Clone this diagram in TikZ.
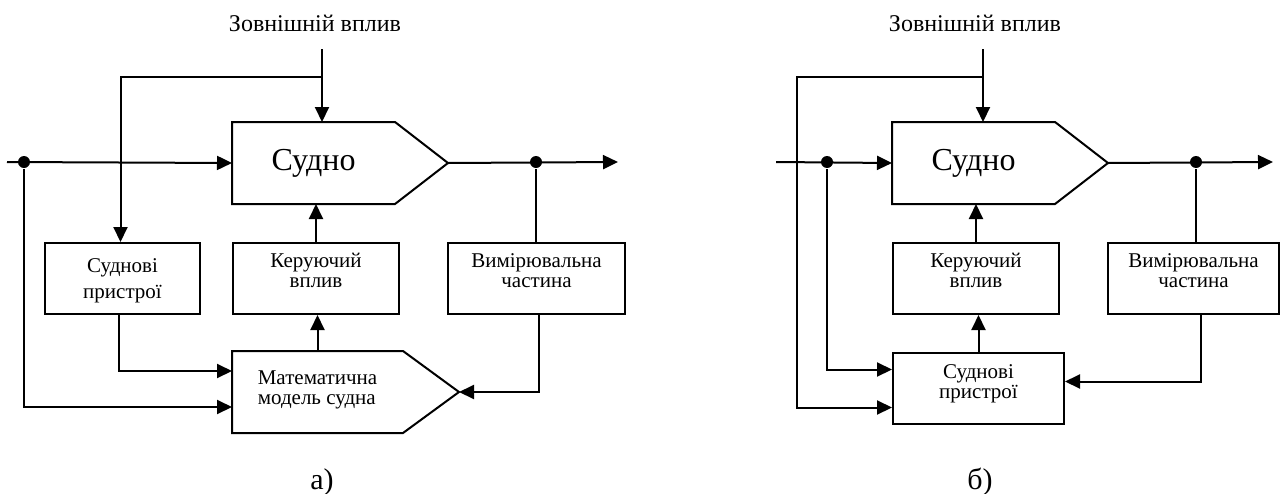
\documentclass[tikz,border=0pt]{standalone}
\usepackage{fontspec}
\setmainfont{Liberation Serif}
\usetikzlibrary{arrows.meta,calc}

\begin{document}
\begin{tikzpicture}[x=1pt, y=-1pt, line width=2pt,
    box/.style={draw, line width=2pt, anchor=north west, inner sep=0pt,
        align=center, font=\fontsize{21}{20}\selectfont},
    pent/.style={anchor=north west, inner sep=0pt, minimum height=80pt},
    arr/.style={-{Triangle[length=15pt,width=14pt]}},
    dot/.style={circle, fill, inner sep=0pt, minimum size=12pt},
    caption/.style={anchor=base, font=\fontsize{30}{32}\selectfont}]

\useasboundingbox (0,0) rectangle (1280,493);

% ── Схема а) ────────────────────────────────────────────────
\node[anchor=base, font=\fontsize{24}{28}\selectfont] (extA) at (315,31) {Зовнішній вплив};

\node[pent, minimum width=161pt, font=\fontsize{32}{36}\selectfont] (shipA) at (232,122) {Судно};
\coordinate (shipAtip) at ($(shipA.east)+(53,0)$);
\draw[line join=miter] (shipA.north west) -- (shipA.north east) -- (shipAtip)
    -- (shipA.south east) -- (shipA.south west) -- cycle;

\node[box, minimum width=155pt, minimum height=71pt, text height=40pt, text depth=0pt]
    (devA) at (44,242) {Суднові\\[6pt]пристрої};
\node[box, minimum width=166pt, minimum height=71pt, text height=34pt, text depth=16pt]
    (ctrlA) at (232,242) {Керуючий\\вплив};
\node[box, minimum width=177pt, minimum height=71pt, text height=34pt, text depth=16pt]
    (measA) at (447,242) {Вимірювальна\\частина};

\node[pent, minimum width=169pt, align=left, text height=34pt, text depth=9pt,
    font=\fontsize{21}{20}\selectfont] (modelA) at (232,351) {Математична\\модель судна};
\coordinate (modelAtip) at ($(modelA.east)+(56,0)$);
\draw[line join=miter] (modelA.north west) -- (modelA.north east) -- (modelAtip)
    -- (modelA.south east) -- (modelA.south west) -- cycle;

% вхід, вихід і точки розгалуження
\coordinate (inA) at (7,162);
\coordinate (outA) at (618,162);
\coordinate (topA) at (322,49);
\coordinate (forkA) at (322,77);
\node[dot] (jA1) at (24,162) {};
\node[dot] (jA2) at (536,162) {};

\draw[arr] (topA) -- (topA |- shipA.north);
\draw[arr] (forkA) -| ([xshift=-2pt]devA.north);
\draw[arr] (inA) -- (shipA.west);
\draw[arr] (shipAtip) -- (outA);
\draw[arr] (jA1) |- ([yshift=-15pt]modelA.west);
\draw[arr] ([xshift=-4pt]devA.south) |- ([yshift=21pt]modelA.west);
\draw[arr] (modelA.north) -- (modelA.north |- ctrlA.south);
\draw[arr] (ctrlA.north) -- (ctrlA.north |- shipA.south);
\draw (jA2) -- (jA2 |- measA.north);
\draw[arr] ([xshift=2pt]measA.south) |- (modelAtip);

\node[caption] (capA) at (322,489) {а)};

% ── Схема б) ────────────────────────────────────────────────
\node[anchor=base, font=\fontsize{24}{28}\selectfont] (extB) at (975,31) {Зовнішній вплив};

\node[pent, minimum width=161pt, font=\fontsize{32}{36}\selectfont] (shipB) at (892,122) {Судно};
\coordinate (shipBtip) at ($(shipB.east)+(53,0)$);
\draw[line join=miter] (shipB.north west) -- (shipB.north east) -- (shipBtip)
    -- (shipB.south east) -- (shipB.south west) -- cycle;

\node[box, minimum width=166pt, minimum height=71pt, text height=34pt, text depth=16pt]
    (ctrlB) at (892,242) {Керуючий\\вплив};
\node[box, minimum width=171pt, minimum height=71pt, text height=34pt, text depth=16pt]
    (measB) at (1107,242) {Вимірювальна\\частина};
\node[box, minimum width=171pt, minimum height=71pt, text height=34pt, text depth=14pt]
    (devB) at (892,352) {Суднові\\пристрої};

% вхід, вихід і точки розгалуження
\coordinate (inB) at (776,162);
\coordinate (outB) at (1273,162);
\coordinate (topB) at (983,49);
\coordinate (forkB) at (983,77);
\node[dot] (jB1) at (827,162) {};
\node[dot] (jB2) at (1196,162) {};

\draw[arr] (topB) -- (topB |- shipB.north);
\draw[arr] (forkB) -- (797,77) |- ([yshift=-19pt]devB.west);
\draw[arr] (inB) -- (shipB.west);
\draw[arr] (shipBtip) -- (outB);
\draw[arr] (jB1) |- ([yshift=19pt]devB.west);
\draw[arr] (devB.north) -- (devB.north |- ctrlB.south);
\draw[arr] (ctrlB.north) -- (ctrlB.north |- shipB.south);
\draw (jB2) -- (jB2 |- measB.north);
\draw[arr] ([xshift=7pt]measB.south) |- ([yshift=7pt]devB.east);

\node[caption] (capB) at (980,489) {б)};

\end{tikzpicture}
\end{document}
